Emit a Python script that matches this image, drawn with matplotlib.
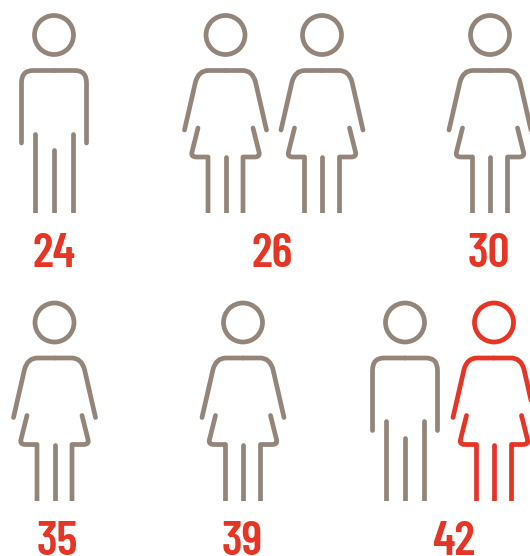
import matplotlib
matplotlib.use('Agg')
import matplotlib.pyplot as plt
from matplotlib.patches import Circle, PathPatch, Rectangle
from matplotlib.path import Path

# ages and the figures stood above them
ages = [24, 26, 30, 35, 39, 42]
label_x = [54.5, 272, 489, 57, 242, 454]
label_row = [0, 0, 0, 1, 1, 1]

figure_age = [24, 26, 26, 30, 35, 39, 42, 42]
figure_kind = ['man', 'woman', 'woman', 'woman', 'woman', 'woman', 'man', 'woman']
figure_x = [54, 225.5, 322, 490, 54.5, 243, 405, 494]
figure_row = [0, 0, 0, 0, 1, 1, 1, 1]
figure_colour = ['grey'] * 7 + ['red']

GREY = '#94857a'
RED = '#e63425'
COLOURS = {'grey': GREY, 'red': RED}
ROW_STEP = 287.5
LW = 3.4  # points, about 4.7 px at dpi 100

M, L, Q = Path.MOVETO, Path.LINETO, Path.CURVE3


def man_paths():
    out = []
    for s in (-1, 1):
        # arm + half the shoulder
        out.append(Path([(0, 70.5), (s * 21, 70.5), (s * 32.5, 70.5), (s * 32.5, 83), (s * 32.5, 143)],
                        [M, L, Q, Q, L]))
        # outer leg
        out.append(Path([(s * 19.3, 133.5), (s * 19.3, 218)], [M, L]))
    out.append(Path([(0, 150), (0, 218)], [M, L]))
    return out


def woman_paths():
    out = []
    for s in (-1, 1):
        out.append(Path([(0, 70.5), (s * 17, 70.5), (s * 27, 70.5), (s * 30, 82), (s * 41, 130)],
                        [M, L, Q, Q, L]))
        out.append(Path([(s * 27.5, 128), (s * 33.5, 152), (s * 35, 157), (s * 29, 157),
                         (s * 17.5, 157), (s * 17.5, 218)],
                        [M, L, Q, Q, L, L]))
    out.append(Path([(0, 157), (0, 218)], [M, L]))
    return out


SHAPES = {'man': man_paths(), 'woman': woman_paths()}


def draw_figure(ax, kind, cx, row, colour):
    dy = row * ROW_STEP
    ax.add_patch(Circle((cx, 35 + dy), 19.5, fill=False, ec=colour, lw=LW))
    # legs are cut flat at the bottom of the figure
    clip = Rectangle((cx - 60, dy), 120, 213, transform=ax.transData)
    for p in SHAPES[kind]:
        patch = PathPatch(Path(p.vertices + [cx, dy], p.codes), fill=False, ec=colour, lw=LW,
                          capstyle='round', joinstyle='round')
        ax.add_patch(patch)
        patch.set_clip_path(clip)


fig = plt.figure(figsize=(5.30, 5.56), dpi=100)
ax = fig.add_axes([0, 0, 1, 1])
ax.set_xlim(0, 530)
ax.set_ylim(556, 0)
ax.axis('off')

for kind, cx, row, c in zip(figure_kind, figure_x, figure_row, figure_colour):
    draw_figure(ax, kind, cx, row, COLOURS[c])

for age, x, row in zip(ages, label_x, label_row):
    ax.text(x, 267 + row * 288, str(age), color=RED, fontsize=35, fontweight=600,
            family=['Barlow Condensed', 'Liberation Sans', 'DejaVu Sans'], ha='center', va='baseline')

fig.savefig('out.png', dpi=100)
